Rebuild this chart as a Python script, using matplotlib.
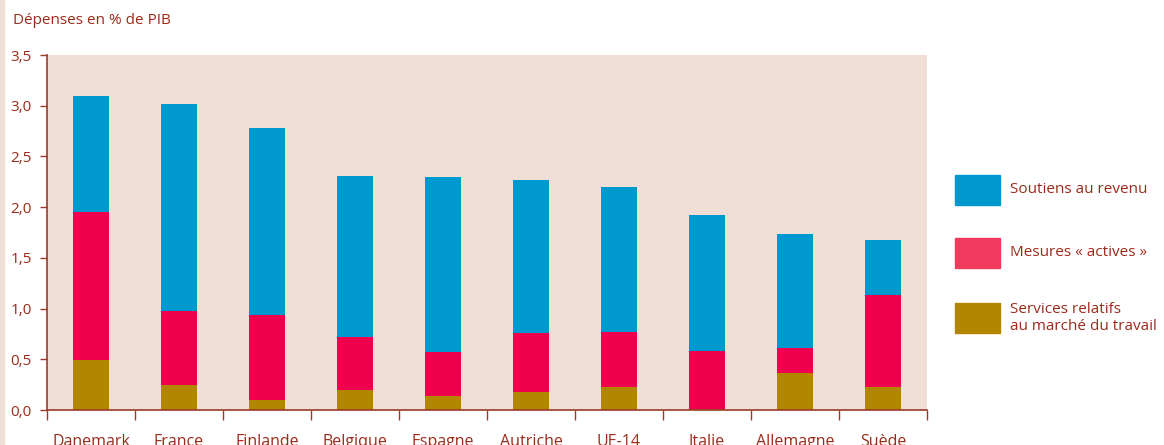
import matplotlib
matplotlib.use("Agg")
import matplotlib.pyplot as plt
from matplotlib.patches import Rectangle
import numpy as np

plt.rcParams['font.family'] = ['Open Sans', 'DejaVu Sans']

countries = ["Danemark", "France", "Finlande", "Belgique", "Espagne",
             "Autriche", "UE-14", "Italie", "Allemagne", "Suède"]
totals = [3.10, 3.02, 2.78, 2.31, 2.30, 2.27, 2.20, 1.92, 1.74, 1.68]
actives_top = [1.95, 0.98, 0.94, 0.72, 0.575, 0.76, 0.77, 0.58, 0.61, 1.13]
services = [0.49, 0.25, 0.10, 0.20, 0.135, 0.18, 0.23, 0.01, 0.36, 0.23]
actives = [a - s for a, s in zip(actives_top, services)]
soutiens = [t - a for t, a in zip(totals, actives_top)]
yticks = [0.0, 0.5, 1.0, 1.5, 2.0, 2.5, 3.0, 3.5]
legend_labels = ["Soutiens au revenu", "Mesures « actives »",
                 "Services relatifs\nau marché du travail"]

BLUE = "#0099CF"
RED = "#EE004E"
RED_LEG = "#F2395E"
GOLD = "#B38600"
BG = "#F0DFD6"
TXT = "#9B2A1A"
AX = "#9B3A2A"

fig = plt.figure(figsize=(11.64, 4.45), dpi=100)
ax = fig.add_axes([47/1164, 1-410/445, 880/1164, 355/445])
ax.set_facecolor(BG)

x = np.arange(len(countries))
w = 0.4
ax.bar(x, services, w, color=GOLD, zorder=2)
ax.bar(x, actives, w, bottom=services, color=RED, zorder=2)
ax.bar(x, soutiens, w, bottom=actives_top, color=BLUE, zorder=2)

ax.set_xlim(-0.5, len(countries) - 0.5)
ax.set_ylim(0, 3.5)
ax.set_yticks(yticks)
ax.set_yticklabels([f"{v:.1f}".replace(".", ",") for v in yticks],
                   color=TXT, fontsize=11)
ax.set_xticks(np.arange(len(countries) + 1) - 0.5)
ax.set_xticklabels([])
ax.set_xticks(x, minor=True)
ax.set_xticklabels(countries, minor=True, color=TXT, fontsize=11.5)
ax.tick_params(axis='x', which='major', length=7, color=AX, width=1)
ax.tick_params(axis='x', which='minor', length=0, pad=17)
ax.tick_params(axis='y', length=5, color=AX, width=1, pad=6)

for s in ["top", "right"]:
    ax.spines[s].set_visible(False)
for s in ["left", "bottom"]:
    ax.spines[s].set_color(AX)
    ax.spines[s].set_linewidth(1.2)

fig.text(13/1164, 1-20/445, "Dépenses en % de PIB", color=TXT,
         fontsize=11, va="center", ha="left")

# left edge strip
fig.patches.append(Rectangle((0, 0), 4/1164, 1, transform=fig.transFigure,
                             color=BG, zorder=0))

# legend
leg_colors = [BLUE, RED_LEG, GOLD]
leg_y = [190, 253, 318]
for c, lab, yy in zip(leg_colors, legend_labels, leg_y):
    fig.patches.append(Rectangle((955/1164, 1-(yy+15)/445), 45/1164, 30/445,
                                 transform=fig.transFigure, color=c))
    fig.text(1010/1164, 1-yy/445, lab, color=TXT, fontsize=11,
             va="center", ha="left", linespacing=1.1)

fig.savefig("out.png", dpi=100)
